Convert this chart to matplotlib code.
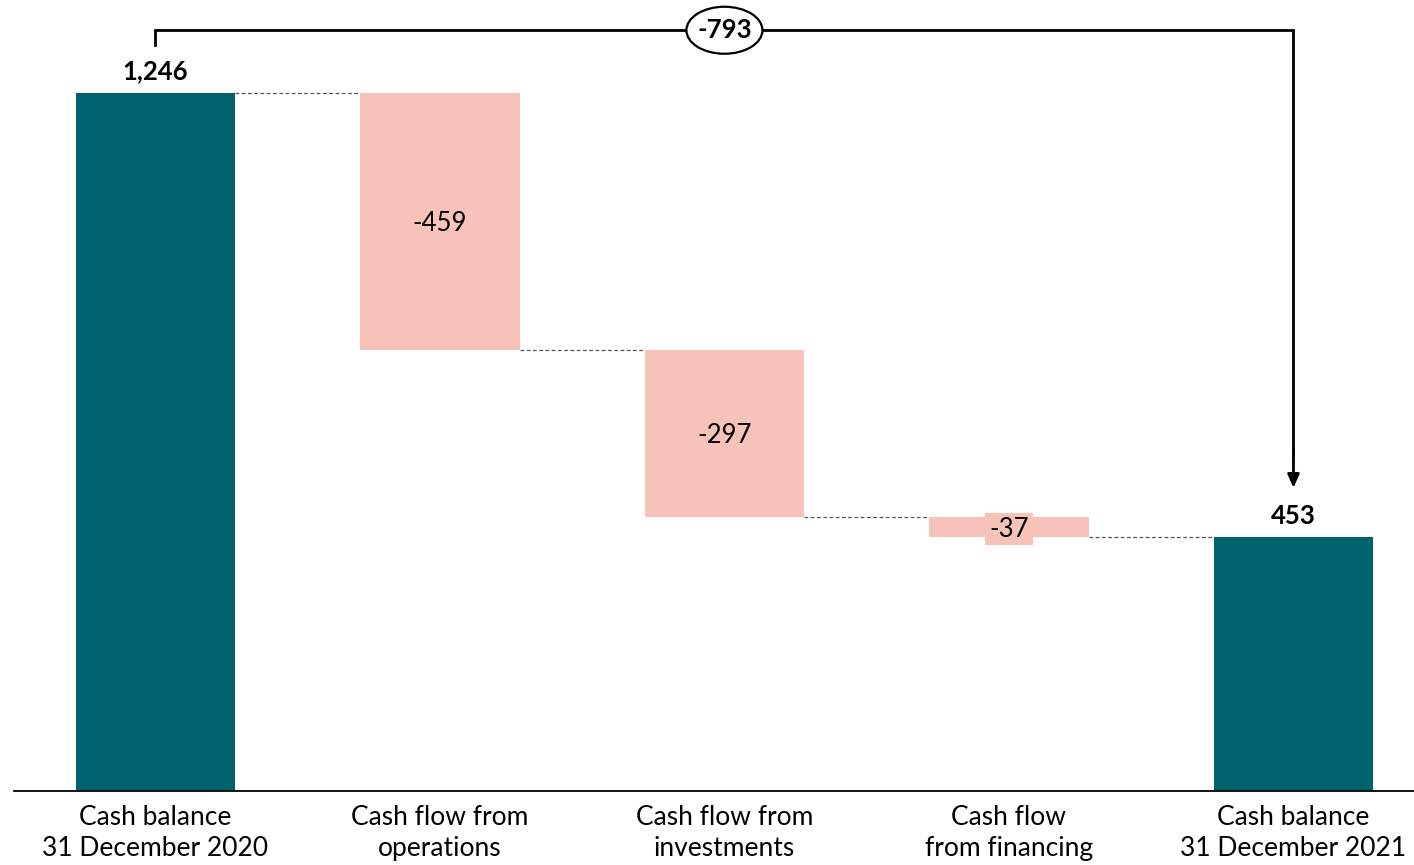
import matplotlib
matplotlib.use("Agg")
import matplotlib.pyplot as plt
from matplotlib.patches import Ellipse

plt.rcParams['font.family'] = ['Lato', 'DejaVu Sans']

# Waterfall data
categories = ["Cash balance\n31 December 2020", "Cash flow from\noperations",
              "Cash flow from\ninvestments", "Cash flow\nfrom financing",
              "Cash balance\n31 December 2021"]
values = [1246, -459, -297, -37, 453]
kinds = ["total", "delta", "delta", "delta", "total"]
total_change = -793

teal = "#00626C"
pink = "#F7C3B9"

fig = plt.figure(figsize=(14.14, 8.65), dpi=100)
ax = fig.add_axes([14 / 1414, 74 / 865, 1400 / 1414, 791 / 865])

bar_w = 0.56
bottoms, tops = [], []
running = 0
for v, k in zip(values, kinds):
    if k == "total":
        bottoms.append(0)
        tops.append(v)
        running = v
    else:
        new = running + v
        bottoms.append(min(running, new))
        tops.append(max(running, new))
        running = new

xs = list(range(len(values)))
colors = [teal if k == "total" else pink for k in kinds]
heights = [t - b for t, b in zip(tops, bottoms)]
ax.bar(xs, heights, bottom=bottoms, width=bar_w, color=colors, zorder=2)

# Dashed connectors between consecutive bars
levels = []
running = 0
for v, k in zip(values, kinds):
    running = v if k == "total" else running + v
    levels.append(running)
for i in range(len(values) - 1):
    ax.plot([i + bar_w / 2, i + 1 - bar_w / 2], [levels[i], levels[i]],
            color="#555555", lw=0.9, ls=(0, (3, 2)), zorder=1)

# Value labels
for i, (v, k) in enumerate(zip(values, kinds)):
    if k == "total":
        ax.text(i, tops[i] + 17, f"{v:,}", ha="center", va="bottom",
                fontsize=18.5, fontweight="bold", color="black")
    else:
        mid = (tops[i] + bottoms[i]) / 2
        bbox = None
        if abs(v) < 80:
            bbox = dict(boxstyle="square,pad=0.15", fc=pink, ec="none")
        ax.text(i, mid - 4, f"{v:,}", ha="center", va="center",
                fontsize=18.5, color="black", bbox=bbox, zorder=3)

ax.set_xlim(-0.497, 4.4236)
ax.set_ylim(0, 1412)

# Bracket with arrow showing the overall change
y_top = 1358
ax.plot([0, 0, 4, 4], [1332, y_top, y_top, 600], color="black", lw=2,
        solid_joinstyle="miter", clip_on=False, zorder=4)
ax.annotate("", xy=(4, 541), xytext=(4, 610),
            arrowprops=dict(arrowstyle="-|>,head_width=0.35,head_length=0.8",
                            color="black", lw=2, shrinkA=0, shrinkB=0),
            zorder=4, annotation_clip=False)
ax.add_patch(Ellipse((2, y_top), width=76 / 284.5, height=47 / 0.5602,
                     fc="white", ec="black", lw=1.6, zorder=5, clip_on=False))
ax.text(2, y_top, f"{total_change:,}", ha="center", va="center",
        fontsize=18.5, fontweight="bold", zorder=6)

ax.set_xticks(xs)
ax.set_xticklabels(categories, fontsize=19, linespacing=1.32)
ax.tick_params(axis="x", length=0, pad=10)
ax.set_yticks([])
for s in ["top", "right", "left"]:
    ax.spines[s].set_visible(False)
ax.spines["bottom"].set_linewidth(1.3)
ax.spines["bottom"].set_color("black")

fig.savefig("out.png", dpi=100)
